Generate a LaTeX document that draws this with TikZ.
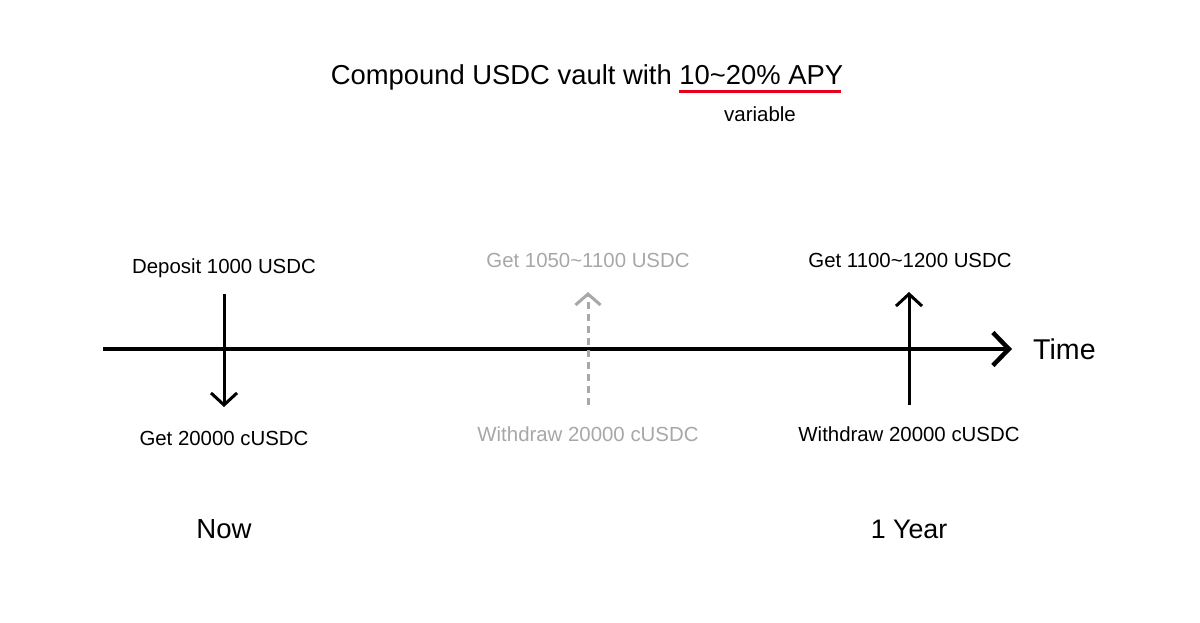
\documentclass[tikz,border=0pt]{standalone}
\usepackage{fontspec}
\setmainfont{Liberation Sans}
\usetikzlibrary{arrows.meta}
\definecolor{lightg}{HTML}{A8A8A8}
\definecolor{redline}{HTML}{E8001C}
\begin{document}
\begin{tikzpicture}[x=1pt,y=-1pt,
  lbl/.style={inner sep=0pt,anchor=center,font=\fontsize{20.4}{24}\selectfont},
  big/.style={inner sep=0pt,anchor=center,font=\fontsize{27}{32}\selectfont},
  tipv/.style={-{Straight Barb[length=12pt,width=26pt,line width=3pt]}},
  vline/.style={line width=3pt,black}]
\useasboundingbox[fill=white] (0,0) rectangle (1200,623);
\node[inner sep=0pt,font=\fontsize{27.4}{32}\selectfont] (title) at (587,77) {Compound USDC vault with 10\char"7E 20\% APY};
\coordinate (ul1) at (679,92);
\coordinate (ul2) at (841,92);
\draw[redline,line width=3pt] (ul1) -- (ul2);
\node[lbl,font=\fontsize{20.5}{24}\selectfont] (var) at (760,114) {variable};
% timeline
\coordinate (t0) at (103,349);
\coordinate (t1) at (1012,349);
\draw[line width=4.5pt,-{Straight Barb[length=16pt,width=33pt,line width=4.5pt]}] (t0) -- (t1);
\node[inner sep=0pt,anchor=west,font=\fontsize{28.6}{32}\selectfont] (time) at (1033,349) {Time};
% left
\coordinate (a0) at (224,294);
\coordinate (a1) at (224,407);
\draw[vline,tipv] (a0) -- (a1);
\node[lbl] (dep) at (224,268) {Deposit 1000 USDC};
\node[lbl] (get) at (224,438) {Get 20000 cUSDC};
% middle
\coordinate (m0) at (588,405);
\coordinate (m1) at (588,292);
\draw[line width=3pt,lightg,dash pattern=on 7pt off 5pt,-{Straight Barb[length=11pt,width=25pt,line width=3pt]}] (m0) -- (m1);
\node[lbl,lightg] (mget) at (588,260) {Get 1050\char"7E 1100 USDC};
\node[lbl,lightg] (mwd) at (588,434) {Withdraw 20000 cUSDC};
% right
\coordinate (r0) at (909,405);
\coordinate (r1) at (909,292);
\draw[vline,tipv] (r0) -- (r1);
\node[lbl] (rget) at (910,260) {Get 1100\char"7E 1200 USDC};
\node[lbl] (rwd) at (909,434) {Withdraw 20000 cUSDC};
\node[big,font=\fontsize{27.6}{32}\selectfont] (now) at (224,529) {Now};
\node[big,font=\fontsize{26.8}{32}\selectfont] (year) at (909,529) {1 Year};
\end{tikzpicture}
\end{document}
